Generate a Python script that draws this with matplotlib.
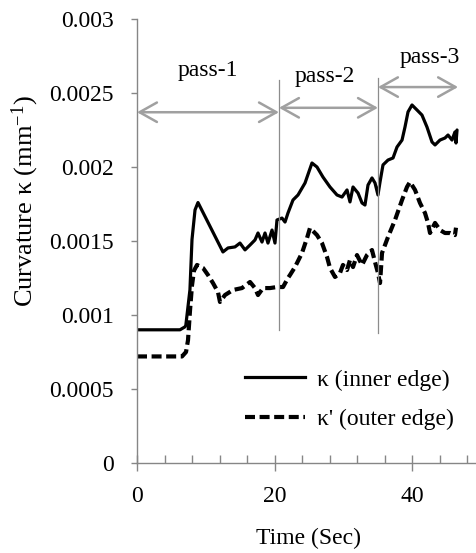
import matplotlib
matplotlib.use("Agg")
import matplotlib.pyplot as plt
from matplotlib.lines import Line2D
from matplotlib.ticker import MultipleLocator, FixedLocator

plt.rcParams['font.family'] = ['Liberation Serif', 'DejaVu Serif']
plt.rcParams['mathtext.fontset'] = 'custom'
plt.rcParams['mathtext.rm'] = 'Liberation Serif'
plt.rcParams['mathtext.it'] = 'Liberation Serif:italic'

# ---- data ----
t_inner = [0, 6.25, 6.98, 7.1, 7.7, 8.0, 8.44, 8.87, 12.5, 13.24, 14.25, 14.98, 15.71,
           16.44, 17.16, 17.6, 18.18, 18.62, 19.05, 19.64, 20.07, 20.36, 21.09, 21.53,
           21.96, 22.69, 23.42, 24.44, 25.45, 26.18, 27.05, 28.07, 29.09, 29.82, 30.55,
           30.98, 31.42, 32.15, 32.73, 33.16, 33.6, 34.18, 34.62, 35.05, 35.35, 35.78,
           36.51, 37.24, 37.82, 38.55, 38.98, 39.42, 40.0, 40.73, 41.45, 42.18, 42.91,
           43.35, 44.07, 44.8, 45.24, 45.82, 46.25, 46.4, 46.55]
k_inner = [0.00090, 0.00090, 0.00092, 0.00093, 0.00117, 0.00151, 0.00171, 0.00176,
           0.001426, 0.001453, 0.00146, 0.001486, 0.00144, 0.001473, 0.001507, 0.001554,
           0.001493, 0.001554, 0.001486, 0.001574, 0.001486, 0.001642, 0.001655, 0.001628,
           0.001689, 0.001777, 0.001811, 0.001892, 0.002027, 0.002, 0.001932, 0.001865,
           0.001811, 0.001797, 0.001845, 0.001764, 0.001865, 0.001824, 0.001757, 0.001743,
           0.001878, 0.001926, 0.001892, 0.001811, 0.001899, 0.002014, 0.002047, 0.002061,
           0.002135, 0.002182, 0.00227, 0.002372, 0.002419, 0.002385, 0.002351, 0.00227,
           0.002169, 0.002149, 0.002182, 0.002196, 0.002216, 0.002182, 0.002237, 0.002162,
           0.00225]

t_outer = [0, 6.55, 7.13, 7.42, 7.71, 8.0, 8.29, 8.73, 9.6, 10.33, 11.05, 11.78, 12.07,
           12.8, 13.96, 15.27, 16.44, 17.16, 17.6, 18.33, 19.35, 20.36, 21.24, 21.96,
           22.25, 22.98, 24.0, 24.73, 25.16, 26.18, 26.91, 27.64, 28.07, 28.8, 29.53,
           29.96, 30.55, 30.98, 31.42, 32.0, 32.73, 33.45, 34.18, 34.62, 35.05, 35.35,
           35.64, 36.51, 37.53, 38.55, 39.27, 39.71, 40.44, 41.16, 41.89, 42.33, 42.62,
           43.35, 44.07, 44.8, 45.53, 46.25, 46.4]
k_outer = [0.00072, 0.00072, 0.00075, 0.00083, 0.00103, 0.00120, 0.00130, 0.001338,
           0.001318, 0.00127, 0.001216, 0.001155, 0.001088, 0.001135, 0.001169, 0.001182,
           0.001223, 0.001182, 0.001135, 0.001182, 0.001182, 0.001189, 0.001189, 0.00125,
           0.00127, 0.001324, 0.001419, 0.00152, 0.001588, 0.00154, 0.001486, 0.001392,
           0.001318, 0.001257, 0.001284, 0.001338, 0.001304, 0.001372, 0.001324, 0.001405,
           0.001338, 0.001405, 0.001439, 0.001358, 0.001284, 0.001216, 0.001419, 0.001527,
           0.001642, 0.001777, 0.001865, 0.001899, 0.001845, 0.001757, 0.001689, 0.001622,
           0.001554, 0.001622, 0.001574, 0.001554, 0.001554, 0.00154, 0.00159]

series_labels = ["κ (inner edge)", "κ' (outer edge)"]
pass_labels = ["pass-1", "pass-2", "pass-3"]
pass_start = [0, 20.65, 35.05]
pass_end = [20.65, 35.05, 46.7]
pass_arrow_y = [0.00237, 0.00240, 0.00254]
pass_text_x = [10.3, 27.35, 42.6]
pass_text_y = [0.00265, 0.00261, 0.00274]
divider_x = [20.65, 35.05]
divider_bottom = [0.00090, 0.00088]
divider_top = [0.00259, 0.00260]

yticks = [0, 0.0005, 0.001, 0.0015, 0.002, 0.0025, 0.003]
ytick_labels = ["0", "0.0005", "0.001", "0.0015", "0.002", "0.0025", "0.003"]
xticks = [0, 20, 40]
xtick_labels = ["0", "20", "40"]

# ---- figure ----
fig = plt.figure(figsize=(4.77, 5.53), dpi=100)
ax = fig.add_axes([137/477, 90/553, 343.75/477, 444/553])

gray = '#868686'
arrow_gray = '#a0a0a0'
dash_style = (0, (2.4, 1.1))

ax.plot(t_inner, k_inner, color='black', lw=2.3, solid_joinstyle='round',
        solid_capstyle='round')
ax.plot(t_outer, k_outer, color='black', lw=3.0, linestyle=dash_style,
        dash_joinstyle='round', dash_capstyle='butt')

for x, b, tp in zip(divider_x, divider_bottom, divider_top):
    ax.plot([x, x], [b, tp], color='#8c8c8c', lw=0.9)

for x0, x1, y in zip(pass_start, pass_end, pass_arrow_y):
    ax.annotate('', xy=(x1, y), xytext=(x0, y),
                arrowprops=dict(arrowstyle='<->,head_length=1.25,head_width=0.7',
                                color=arrow_gray, lw=1.8, shrinkA=0, shrinkB=0,
                                mutation_scale=10))

for lab, x, y in zip(pass_labels, pass_text_x, pass_text_y):
    ax.text(x, y, lab, ha='center', va='center', fontsize=17)

ax.set_xlim(0, 50)
ax.set_ylim(0, 0.003)
ax.yaxis.set_major_locator(FixedLocator(yticks))
ax.set_yticklabels(ytick_labels)
ax.xaxis.set_major_locator(FixedLocator(xticks))
ax.set_xticklabels(xtick_labels)
ax.xaxis.set_minor_locator(MultipleLocator(4))

for s in ['top', 'right']:
    ax.spines[s].set_visible(False)
for s in ['left', 'bottom']:
    ax.spines[s].set_color(gray)
    ax.spines[s].set_linewidth(1.0)

ax.tick_params(axis='y', which='major', direction='out', length=4.5, width=1.0,
               color=gray, labelsize=17, pad=12)
ax.tick_params(axis='x', which='major', direction='inout', length=11, width=1.0,
               color=gray, labelsize=17, pad=11)
ax.tick_params(axis='x', which='minor', direction='in', length=5.5, width=1.0,
               color=gray)

ax.set_xlabel('Time (Sec)', fontsize=17)
ax.xaxis.set_label_coords(0.5, -0.145)
ax.set_ylabel(r'Curvature κ (mm$^{-1}$)', fontsize=19)
ax.yaxis.set_label_coords(-0.28, 0.59)

handles = [Line2D([], [], color='black', lw=2.3),
           Line2D([], [], color='black', lw=3.0, linestyle=dash_style)]
ax.legend(handles, series_labels, loc='center left', bbox_to_anchor=(0.314, 0.143),
          frameon=False, fontsize=17, handlelength=2.55, handletextpad=0.5,
          labelspacing=0.75, borderpad=0, borderaxespad=0)

fig.savefig('out.png', dpi=100)
